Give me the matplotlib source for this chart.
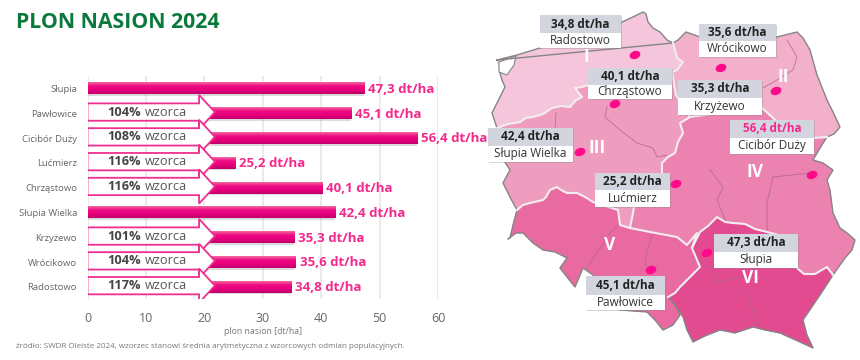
# Plon nasion 2024: yield bars with the percent-of-standard arrows, and the region map on the right.
import numpy as np
import matplotlib
matplotlib.use("Agg")
import matplotlib.pyplot as plt
from matplotlib.colors import LinearSegmentedColormap
from matplotlib.patches import Ellipse, Polygon, Rectangle

plt.rcParams["font.family"] = ["Open Sans", "DejaVu Sans"]

# chart values
places = ["Słupia", "Pawłowice", "Cicibór Duży", "Lućmierz", "Chrząstowo",
          "Słupia Wielka", "Krzyżewo", "Wrócikowo", "Radostowo"]
yields = [47.3, 45.1, 56.4, 25.2, 40.1, 42.4, 35.3, 35.6, 34.8]
pct_of_standard = [None, 104, 108, 116, 116, None, 101, 104, 117]
x_ticks = [0, 10, 20, 30, 40, 50, 60]

# map labels: name, box left, box right, top, split, bottom
map_labels = [("Radostowo", 540, 621, 15, 33, 48), ("Wrócikowo", 699, 776, 24, 41, 57),
              ("Chrząstowo", 588, 672, 68, 85, 99), ("Krzyżewo", 678, 762, 80, 98, 115),
              ("Cicibór Duży", 730, 814, 120, 138, 154), ("Słupia Wielka", 488, 573, 128, 146, 162),
              ("Lućmierz", 595, 670, 173, 190, 207), ("Słupia", 714, 798, 234, 252, 268),
              ("Pawłowice", 586, 665, 276, 295, 310)]
map_dots = [(635, 55), (721, 68), (615, 104), (776, 91), (812, 175),
            (580, 152), (676, 184), (707, 253), (651, 270)]
numerals = [("I", 586, 57), ("II", 783, 77), ("III", 597, 148), ("IV", 755, 172),
            ("V", 610, 245), ("VI", 751, 278)]

# region outlines, in pixels
coast_I = [(497, 60), (517, 55), (540, 48), (580, 38), (620, 23), (635, 16), (643, 12), (646, 14), (648, 22),
           (653, 28), (660, 32), (667, 40), (673, 43)]
border_I_II = [(673, 43), (675, 50), (677, 58), (683, 62), (680, 66), (677, 70), (672, 72), (676, 95), (690, 117)]
border_I_III = [(672, 72), (640, 80), (588, 85), (582, 87), (575, 88), (578, 92), (582, 97), (576, 100),
                (570, 107), (561, 106), (552, 108), (543, 114), (533, 117), (526, 118), (520, 122), (508, 124),
                (497, 128)]
west_I = [(497, 128), (492, 113), (497, 103), (500, 97), (505, 87), (502, 80), (500, 73)]
north_II = [(673, 43), (678, 40), (686, 32), (700, 37), (777, 37), (797, 32), (803, 38), (810, 50), (817, 75),
            (827, 100), (833, 112), (840, 127), (834, 134), (827, 137)]
border_II_IV = [(827, 137), (814, 138), (780, 125), (772, 117), (762, 108), (725, 112), (690, 117)]
border_III_IV = [(690, 117), (680, 123), (683, 133), (678, 142), (675, 153), (668, 157), (662, 163), (662, 180),
                 (635, 200), (633, 213), (630, 228)]
border_III_V = [(630, 228), (620, 225), (618, 210), (593, 202), (585, 197), (577, 193), (567, 193), (561, 190),
                (557, 187), (550, 190), (546, 197), (543, 200), (530, 203), (523, 205), (517, 210)]
west_III = [(517, 210), (510, 197), (503, 183), (510, 170), (497, 150), (497, 128)]
south_V = [(517, 210), (513, 225), (510, 238), (508, 239), (516, 233), (523, 233), (533, 243), (543, 250),
           (555, 252), (567, 258), (560, 268), (567, 277), (575, 287), (583, 268), (593, 275), (600, 295),
           (620, 310), (647, 312), (655, 320), (663, 330), (673, 325), (680, 315), (675, 305), (668, 297)]
border_V_VI = [(668, 297), (675, 293), (680, 287), (700, 267), (692, 248)]
border_IV_V = [(692, 248), (697, 233), (687, 245), (677, 237), (650, 232), (630, 228)]
border_IV_VI = [(692, 248), (700, 232), (708, 226), (717, 217), (725, 222), (733, 223), (745, 224), (755, 229),
                (767, 232), (790, 238), (797, 268), (804, 274), (815, 274), (827, 267), (833, 275)]
east_IV = [(833, 275), (845, 258), (852, 250), (855, 240), (847, 233), (840, 228), (833, 213), (830, 190),
           (827, 180), (833, 170), (823, 163), (813, 160), (820, 148), (827, 137)]
south_VI = [(833, 275), (820, 295), (803, 320), (807, 335), (813, 348), (800, 342), (780, 333), (765, 330),
            (753, 327), (735, 333), (720, 330), (705, 336), (693, 342), (687, 330), (683, 317), (675, 305), (668, 297)]
thin_lines = [[(556, 113), (555, 128)],
              [(607, 107), (605, 117), (620, 130), (637, 143), (653, 148), (657, 157), (667, 155)],
              [(787, 40), (797, 57), (793, 70), (777, 80), (763, 88)],
              [(710, 170), (723, 187), (717, 200), (725, 220)],
              [(773, 177), (767, 203), (767, 232)],
              [(773, 177), (810, 173)],
              [(618, 225), (610, 233), (597, 253), (587, 267)],
              [(652, 235), (645, 260), (647, 270)],
              [(747, 287), (747, 293), (757, 325)],
              [(693, 257), (713, 270), (717, 282), (743, 277)]]
lagoon = [(499, 62), (516, 56), (514, 65), (507, 75), (499, 72)]

PINK = "#f5288c"
bar_cmap = LinearSegmentedColormap.from_list("bar", ["#f4679f", "#ee0a82", "#e8007c", "#bf006a"])
ramp = np.linspace(0, 1, 32).reshape(-1, 1)

fig = plt.figure(figsize=(8.6, 3.6), dpi=100, facecolor="white")
W, H = 860.0, 360.0
ax = fig.add_axes([87.5 / W, 1 - 299.3 / H, 350.5 / W, 223.2 / H])

rows = np.arange(len(places))
for r, v in zip(rows, yields):
    ax.barh(r + 0.27, v, height=0.06, color="#999999", alpha=0.35, zorder=2)
    ax.imshow(ramp, extent=(0, v, r + 0.24, r - 0.22), cmap=bar_cmap, aspect="auto", zorder=3)
    ax.text(v + 0.7, r + 0.03, f"{v:.1f}".replace(".", ",") + " dt/ha", color=PINK, fontsize=9.5,
            fontweight="bold", va="center", ha="left", zorder=6)

for r, p in zip(rows, pct_of_standard):
    if p is None:
        continue
    c = r - 0.05
    ax.add_patch(Polygon([(0, c - 0.35), (19.1, c - 0.35), (19.1, c - 0.69), (21.8, c), (19.1, c + 0.69),
                          (19.1, c + 0.35), (0, c + 0.35)], closed=True, fc="white", ec="#ee2f8f",
                         lw=1.3, zorder=4, joinstyle="miter"))
    ax.text(9.15, c, f"{p}%", color="#444444", fontsize=9.2, fontweight="bold", ha="right", va="center", zorder=5)
    ax.text(9.75, c, "wzorca", color="#555555", fontsize=9.2, ha="left", va="center", zorder=5)

ax.set_xlim(0, 60)
ax.set_ylim(8.5, -0.5)
ax.set_xticks(x_ticks)
ax.set_yticks(rows)
ax.set_yticklabels(places)
ax.tick_params(axis="y", length=0, pad=7.5, labelsize=6.8, labelcolor="#666666")
ax.tick_params(axis="x", length=0, pad=9, labelsize=9, labelcolor="#666666")
ax.grid(axis="x", color="#e6e6e6", lw=1.2)
ax.set_axisbelow(True)
for s in ax.spines.values():
    s.set_visible(False)
ax.set_xlabel("plon nasion [dt/ha]", fontsize=6.3, color="#777777", labelpad=1.5)

# map layer in picture pixels
m = fig.add_axes([0, 0, 1, 1], facecolor="none")
m.set_xlim(0, W)
m.set_ylim(H, 0)
m.axis("off")

regions = [(coast_I + border_I_II[1:7] + border_I_III[1:] + west_I, "#f5c6db"),
           (north_II + border_II_IV[1:] + border_I_II[::-1][1:], "#f3b0cb"),
           (border_I_III + west_III[::-1][1:] + border_III_V[::-1][1:] + border_III_IV[::-1][1:]
            + [border_I_II[7]], "#ef9dbf"),
           (border_III_IV + border_IV_V[::-1][1:] + border_IV_VI[1:] + east_IV[1:] + border_II_IV[1:], "#ec82b0"),
           (south_V + border_V_VI[1:] + border_IV_V[1:] + border_III_V[1:], "#e96aa1"),
           (border_IV_VI + south_VI[1:] + border_V_VI[1:], "#e34b91")]
for pts, col in regions:
    m.add_patch(Polygon(pts, closed=True, fc=col, ec=col, lw=0.3, zorder=1))
m.add_patch(Polygon(lagoon, closed=True, fc="white", ec="#858585", lw=0.8, zorder=2))

for seg in thin_lines:
    xs, ys = zip(*seg)
    m.plot(xs, ys, color="#a8648a", lw=0.6, alpha=0.8, zorder=2)
for seg in [coast_I + [coast_I[0]], north_II, east_IV, south_VI, south_V, west_III, west_I]:
    xs, ys = zip(*seg)
    m.plot(xs, ys, color="#858585", lw=1.0, zorder=3)
for seg in [border_I_II, border_I_III, border_II_IV, border_III_IV, border_III_V, border_IV_V, border_IV_VI, border_V_VI]:
    xs, ys = zip(*seg)
    m.plot(xs, ys, color="#f2eef0", lw=1.5, zorder=3)

for (x, y) in map_dots:
    m.add_patch(Ellipse((x, y), 11, 8, angle=-20, fc="#ff0a8a", ec="none", zorder=4))
for txt, x, y in numerals:
    m.text(x, y, txt, color="white", fontsize=12.5, fontweight="bold", ha="center", va="center", zorder=4)

for (name, x0, x1, top, mid, bot) in map_labels:
    val = yields[places.index(name)]
    m.add_patch(Rectangle((x0 + 1, top + 1), x1 - x0, bot - top, fc="#888888", alpha=0.35, ec="none", zorder=5))
    m.add_patch(Rectangle((x0, top), x1 - x0, mid - top, fc="#d2d5de", ec="none", zorder=6))
    m.add_patch(Rectangle((x0, mid), x1 - x0, bot - mid, fc="white", ec="none", zorder=6))
    col = PINK if val == max(yields) else "#222222"
    m.text((x0 + x1) / 2, (top + mid) / 2, f"{val:.1f}".replace(".", ",") + " dt/ha", color=col, fontsize=8.5,
           fontweight="bold", ha="center", va="center", zorder=7)
    m.text((x0 + x1) / 2, (mid + bot) / 2, name, color="#333333", fontsize=8.5, ha="center", va="center", zorder=7)

m.text(16, 23, "PLON NASION 2024", color="#0a7a3c", fontsize=15.3, fontweight="bold", ha="left", va="center")
m.text(16, 346, "źródło: SWDR Oleiste 2024, wzorzec stanowi średnia arytmetyczna z wzorcowych odmian populacyjnych.",
       color="#777777", fontsize=5.75, ha="left", va="center")

fig.savefig("out.png", dpi=100, facecolor="white")
plt.close(fig)
